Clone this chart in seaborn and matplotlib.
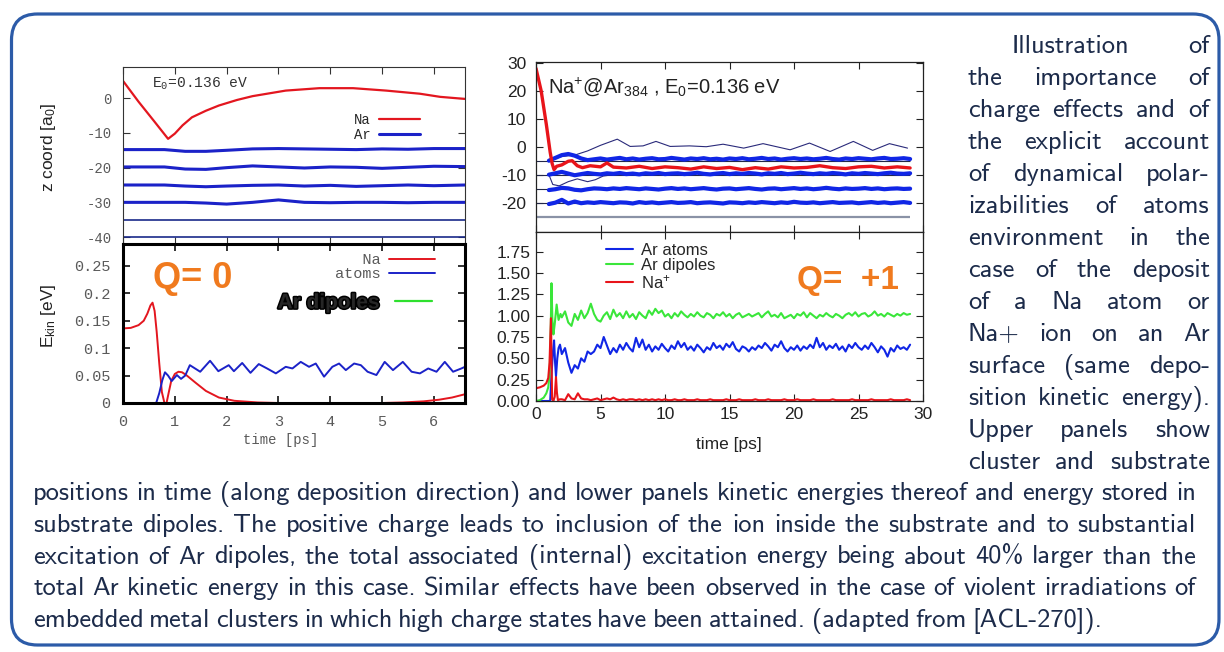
import numpy as np
import matplotlib
matplotlib.use("Agg")
import matplotlib.pyplot as plt
import matplotlib.patheffects as pe
from matplotlib.patches import FancyBboxPatch
from matplotlib.lines import Line2D
from matplotlib.transforms import IdentityTransform
from matplotlib.ticker import FormatStrFormatter
import seaborn as sns

W, H = 1224, 652

# ---------------- Q = 0 : Na on Ar, z coordinate ----------------
t_na_z0 = [0.0, 0.3, 0.6, 0.87, 1.0, 1.15, 1.33, 1.6, 1.85, 2.2, 2.5, 3.14, 3.79, 4.44, 5.08, 5.73, 6.12, 6.6]
z_na_z0 = [5.0, -1.0, -6.6, -11.7, -10.2, -7.8, -5.5, -3.6, -2.1, -0.5, 0.6, 2.2, 2.9, 2.9, 2.2, 1.3, 0.4, -0.2]

t_lay0 = [0, 0.8, 1.2, 1.6, 2.0, 2.5, 3.0, 3.5, 4.0, 4.5, 5.0, 5.5, 6.0, 6.6]
z_lay0_15 = [-14.8, -14.8, -15.3, -15.3, -15.0, -14.6, -14.5, -14.6, -14.7, -14.8, -14.6, -14.7, -14.5, -14.5]
z_lay0_20 = [-19.8, -19.8, -20.4, -20.5, -20.0, -19.5, -19.8, -20.1, -19.8, -19.9, -20.2, -19.9, -19.6, -19.7]
z_lay0_25 = [-25.0, -25.0, -25.3, -25.5, -25.3, -25.1, -25.0, -25.3, -25.1, -25.4, -25.2, -25.0, -25.2, -25.0]
z_lay0_30 = [-30.0, -30.0, -30.0, -30.2, -30.5, -30.0, -29.3, -30.0, -30.1, -30.0, -30.0, -30.1, -30.0, -30.0]
z_lay0_35 = [-35.0] * len(t_lay0)
z_lay0_40 = [-40.0] * len(t_lay0)

# ---------------- Q = 0 : kinetic energies ----------------
t_ek_na0 = [0.0, 0.15, 0.3, 0.4, 0.47, 0.53, 0.57, 0.61, 0.65, 0.7, 0.75, 0.8, 0.84, 0.88, 0.93, 1.0,
            1.07, 1.14, 1.22, 1.4, 1.6, 1.85, 2.15, 2.6, 3.0, 4.0, 5.0, 5.4, 5.8, 6.1, 6.35, 6.6]
ek_na0 = [0.136, 0.137, 0.142, 0.150, 0.163, 0.178, 0.183, 0.168, 0.130, 0.072, 0.020, 0.0, 0.0, 0.018, 0.040, 0.053,
          0.057, 0.056, 0.051, 0.037, 0.022, 0.010, 0.004, 0.001, 0.0, 0.0, 0.0, 0.001, 0.003, 0.006, 0.010, 0.016]

t_ek_ar0 = [0.0, 0.64, 0.70, 0.76, 0.81, 0.87, 0.94, 1.04, 1.12, 1.20, 1.29, 1.49, 1.68, 1.84, 2.04,
            2.14, 2.30, 2.46, 2.62, 2.78, 2.95, 3.14, 3.27, 3.43, 3.59, 3.72, 3.88, 4.04, 4.17, 4.30,
            4.46, 4.59, 4.72, 4.89, 5.05, 5.21, 5.40, 5.57, 5.73, 5.89, 6.05, 6.21, 6.37, 6.53, 6.6]
ek_ar0 = [0.0, 0.0, 0.018, 0.042, 0.056, 0.050, 0.040, 0.051, 0.044, 0.050, 0.069, 0.057, 0.077, 0.058, 0.069,
          0.058, 0.073, 0.055, 0.071, 0.063, 0.054, 0.066, 0.063, 0.075, 0.066, 0.072, 0.048, 0.066, 0.072, 0.060,
          0.072, 0.069, 0.057, 0.051, 0.075, 0.060, 0.075, 0.057, 0.054, 0.063, 0.057, 0.075, 0.057, 0.063, 0.066]

# ---------------- Q = +1 : Na+ on Ar384, z coordinate ----------------
t_na_z1 = [0.0, 0.4, 0.8, 1.1, 1.25, 1.4, 1.6, 2.0, 2.5, 2.8, 3.2, 3.6, 4.2, 5.0, 5.5,
           6.0, 7.0, 8.0, 9.0, 10.0, 11.0, 12.0, 13.0, 14.0, 15.0, 16.0, 17.0, 18.0, 19.0, 20.0,
           21.0, 22.0, 23.0, 24.0, 25.0, 26.0, 27.0, 28.0, 29.0]
z_na_z1 = [28.0, 20.0, 8.0, -2.0, -6.0, -8.2, -7.0, -6.5, -5.2, -5.0, -6.8, -7.5, -6.8, -7.2, -5.8,
           -7.3, -7.6, -7.0, -7.8, -7.2, -7.5, -8.0, -7.2, -7.8, -7.4, -8.2, -7.5, -8.0, -7.2, -7.6,
           -7.4, -6.8, -7.5, -7.8, -7.2, -7.0, -7.6, -7.2, -7.6]

z_init1 = [-5, -10, -15, -20]      # initial layer positions (thin lines)
z_base1 = [-25]                    # fixed bottom layer
t_span1 = [0, 29]

t_lay1 = np.arange(1.0, 29.01, 0.5)
z_lay1_5 = [-5.0, -4.0, -3.0, -2.6, -3.2, -4.2, -4.8, -4.5, -4.2, -4.6,
            -4.3, -4.0, -4.5, -4.2, -4.6, -4.3, -4.1, -4.5, -4.4, -4.0,
            -4.3, -4.6, -4.2, -4.4, -4.1, -4.5, -4.3, -4.6, -4.2, -4.4,
            -4.1, -4.5, -4.3, -4.0, -4.4, -4.2, -4.6, -4.3, -4.1, -4.4,
            -4.2, -4.5, -4.3, -4.0, -4.4, -4.6, -4.2, -4.4, -4.1, -4.3,
            -4.5, -4.2, -4.0, -4.4, -4.3, -4.1, -4.4]
z_lay1_10 = [-10.0, -9.5, -9.0, -9.6, -10.2, -9.8, -9.4, -9.7, -9.9, -9.5,
             -9.7, -9.4, -9.8, -9.6, -9.9, -9.5, -9.7, -9.4, -9.8, -9.6,
             -9.5, -9.8, -9.6, -9.3, -9.7, -9.9, -9.6, -9.4, -9.8, -9.5,
             -9.7, -9.4, -9.6, -9.9, -9.5, -9.7, -9.4, -9.8, -9.6, -9.3,
             -9.6, -9.8, -9.5, -9.7, -9.4, -9.6, -9.9, -9.5, -9.7, -9.4,
             -9.6, -9.8, -9.5, -9.3, -9.6, -9.7, -9.5]
z_lay1_15 = [-15.5, -15.2, -14.7, -14.9, -15.4, -15.6, -15.2, -14.9, -15.0, -15.2,
             -14.9, -15.1, -14.8, -15.0, -15.2, -14.9, -15.1, -15.3, -15.0, -14.8,
             -15.1, -14.9, -15.2, -15.0, -14.8, -15.1, -15.3, -15.0, -14.9, -15.2,
             -15.0, -14.8, -15.1, -15.3, -15.0, -14.9, -15.2, -15.0, -14.8, -15.1,
             -14.9, -15.2, -15.0, -14.7, -15.0, -15.2, -14.9, -15.1, -15.0, -14.8,
             -15.1, -14.9, -15.2, -15.0, -14.9, -15.1, -15.0]
z_lay1_20 = [-20.5, -20.0, -19.0, -20.3, -19.6, -20.2, -19.9, -20.1, -19.8, -20.0,
             -20.2, -19.9, -20.0, -20.3, -19.8, -20.1, -19.9, -20.2, -20.0, -19.8,
             -20.1, -20.0, -19.8, -20.2, -20.0, -19.9, -20.1, -20.3, -19.9, -20.0,
             -20.2, -19.9, -20.1, -19.8, -20.0, -20.2, -19.9, -20.1, -19.7, -20.0,
             -20.1, -19.9, -20.2, -20.0, -19.8, -20.1, -20.0, -19.9, -20.2, -20.0,
             -19.8, -20.1, -19.9, -20.2, -20.0, -19.8, -20.1]

# two single atoms leaving their layer (thin lines)
t_thin_a = [1.0, 2.0, 3.0, 4.0, 5.0, 6.3, 7.3, 8.3, 9.3, 10.4, 11.9, 13.2, 14.5, 16.1, 17.6, 19.7, 21.2, 22.8, 24.6, 26.1, 27.4, 28.8]
z_thin_a = [-5.0, -3.5, -3.0, -1.5, 0.5, 2.7, 0.1, 0.3, 1.9, 0.1, 0.3, 0.0, 0.9, -0.5, 1.1, -1.1, 1.3, -1.7, 1.9, -1.3, 1.1, -0.5]
t_thin_b = [1.0, 1.3, 1.8, 2.5, 3.2, 4.0, 4.6, 5.2, 6.0]
z_thin_b = [-10.0, -13.5, -14.0, -12.5, -11.5, -12.5, -11.8, -10.5, -10.0]

# ---------------- Q = +1 : energies ----------------
t_dip1_early = [0.0, 0.3, 0.6, 0.8, 0.95, 1.05, 1.15, 1.2, 1.27, 1.35, 1.45, 1.6, 1.75, 1.9]
e_dip1_early = [0.0, 0.01, 0.04, 0.09, 0.16, 0.3, 0.9, 1.38, 0.95, 0.78, 0.9, 1.13, 0.95, 1.02]
t_ar1_early = [0.0, 1.1, 1.2, 1.3, 1.4, 1.48, 1.55, 1.65, 1.75, 1.86]
e_ar1_early = [0.0, 0.0, 0.3, 0.55, 0.71, 0.45, 0.29, 0.5, 0.62, 0.66]
t_na1_early = [0.0, 0.3, 0.6, 0.8, 0.95, 1.05, 1.12, 1.16, 1.2, 1.25, 1.35, 1.45, 1.55, 1.62, 1.7, 1.85]
e_na1_early = [0.15, 0.16, 0.18, 0.21, 0.27, 0.45, 0.8, 0.97, 0.5, 0.02, 0.0, 0.05, 0.28, 0.1, 0.01, 0.02]

t_late = np.arange(2.0, 29.01, 0.25)
e_dip1_late = [0.98, 1.05, 0.92, 0.88, 1.02, 0.95, 1.06, 0.97, 1.03, 1.14,
               1.02, 0.95, 0.93, 1.00, 1.04, 0.96, 1.07, 0.99, 1.03, 0.97,
               1.05, 0.98, 1.02, 0.96, 1.04, 1.00, 0.97, 1.06, 1.01, 1.08,
               1.03, 1.06, 0.99, 1.02, 0.97, 1.03, 0.99, 1.05, 1.01, 0.98,
               1.02, 0.99, 1.04, 1.00, 0.98, 1.03, 1.01, 0.97, 1.02, 1.00,
               1.04, 0.99, 1.02, 0.97, 1.01, 1.03, 0.98, 1.00, 1.02, 0.99,
               1.01, 1.03, 0.98, 1.02, 1.05, 0.99, 1.01, 0.98, 1.03, 0.97,
               0.99, 1.01, 0.97, 1.02, 1.00, 1.04, 0.98, 1.03, 1.00, 0.97,
               1.01, 0.99, 1.03, 1.00, 0.98, 1.02, 1.00, 0.97, 1.01, 1.03,
               1.00, 1.04, 0.99, 1.02, 1.03, 0.99, 1.01, 1.05, 1.00, 1.02,
               0.99, 1.03, 1.01, 0.99, 1.02, 1.00, 1.03, 1.01, 1.02]
e_ar1_late = [0.55, 0.62, 0.45, 0.33, 0.42, 0.38, 0.50, 0.46, 0.58, 0.55,
              0.58, 0.66, 0.62, 0.75, 0.65, 0.55, 0.62, 0.57, 0.66, 0.60,
              0.68, 0.62, 0.58, 0.74, 0.63, 0.72, 0.60, 0.66, 0.58, 0.64,
              0.60, 0.67, 0.62, 0.58, 0.65, 0.61, 0.70, 0.63, 0.68, 0.60,
              0.64, 0.59, 0.66, 0.62, 0.57, 0.63, 0.60, 0.68, 0.62, 0.65,
              0.60, 0.67, 0.63, 0.69, 0.61, 0.58, 0.64, 0.62, 0.58, 0.63,
              0.60, 0.65, 0.62, 0.68, 0.64, 0.59, 0.66, 0.63, 0.70, 0.62,
              0.58, 0.63, 0.60, 0.65, 0.59, 0.64, 0.61, 0.66, 0.62, 0.74,
              0.63, 0.68, 0.60, 0.65, 0.62, 0.67, 0.60, 0.64, 0.58, 0.66,
              0.62, 0.68, 0.63, 0.60, 0.65, 0.61, 0.68, 0.63, 0.57, 0.64,
              0.60, 0.52, 0.62, 0.58, 0.65, 0.61, 0.63, 0.60, 0.66]
e_na1_late = [0.02, 0.01, 0.08, 0.03, 0.02, 0.09, 0.03, 0.02, 0.02, 0.01,
              0.02, 0.03, 0.01, 0.02, 0.03, 0.02, 0.04, 0.02, 0.01, 0.02,
              0.01, 0.02, 0.02, 0.01, 0.02, 0.01, 0.02, 0.01, 0.02, 0.01,
              0.02, 0.01, 0.02, 0.01, 0.01, 0.02, 0.01, 0.01, 0.02, 0.01,
              0.01, 0.01, 0.02, 0.01, 0.01, 0.01, 0.02, 0.01, 0.01, 0.01,
              0.01, 0.02, 0.01, 0.01, 0.01, 0.02, 0.01, 0.01, 0.01, 0.01,
              0.02, 0.01, 0.01, 0.01, 0.02, 0.01, 0.01, 0.01, 0.01, 0.02,
              0.01, 0.01, 0.01, 0.02, 0.01, 0.01, 0.01, 0.01, 0.02, 0.01,
              0.01, 0.01, 0.01, 0.01, 0.02, 0.01, 0.01, 0.01, 0.01, 0.01,
              0.02, 0.01, 0.01, 0.01, 0.01, 0.01, 0.02, 0.01, 0.01, 0.01,
              0.01, 0.01, 0.02, 0.01, 0.01, 0.01, 0.01, 0.02, 0.01]

# ---------------- caption ----------------
col_lines = ["Illustration of", "the importance of", "charge effects and of", "the explicit account",
             "of dynamical polar-", "izabilities of atoms", "environment in the", "case of the deposit",
             "of a Na atom or", "Na+ ion on an Ar", "surface (same depo-", "sition kinetic energy).",
             "Upper panels show", "cluster and substrate"]
bottom_lines = [
    "positions in time (along deposition direction) and lower panels kinetic energies thereof and energy stored in",
    "substrate dipoles. The positive charge leads to inclusion of the ion inside the substrate and to substantial",
    "excitation of Ar dipoles, the total associated (internal) excitation energy being about 40% larger than the",
    "total Ar kinetic energy in this case. Similar effects have been observed in the case of violent irradiations of",
    "embedded metal clusters in which high charge states have been attained. (adapted from [ACL-270]).",
]

RED0, BLUE0, GREEN0 = "#e3161f", "#1b22c8", "#2ee02e"
RED1, BLUE1, GREEN1 = "#e8141a", "#1026e6", "#3ae63a"
ORANGE = "#f07a1e"
CAP = "#1c2b4a"
GREY = "#5a5a5a"

sns.set_style("ticks")
plt.rcParams['font.family'] = ['Liberation Sans', 'DejaVu Sans']
plt.rcParams['mathtext.default'] = 'regular'
plt.rcParams['axes.unicode_minus'] = False

fig = plt.figure(figsize=(W / 100, H / 100), dpi=100)


def fx(x):
    return x / W


def fy(y):
    return 1 - y / H


def px_axes(l, t, r, b):
    return fig.add_axes([l / W, 1 - b / H, (r - l) / W, (b - t) / H])


def line(ax, x, y, **kw):
    sns.lineplot(x=x, y=y, ax=ax, estimator=None, sort=False, legend=False, **kw)
    return ax.lines[-1]


ax1 = px_axes(123, 67, 465, 244)
ax2 = px_axes(123, 244, 465, 403)
ax3 = px_axes(536, 62, 923, 232)
ax4 = px_axes(536, 232, 923, 401)

# ---- left top ----
for zz in [z_lay0_15, z_lay0_20, z_lay0_25, z_lay0_30]:
    h_ar0 = line(ax1, t_lay0, zz, color=BLUE0, linewidth=2.2)
for zz in [z_lay0_35, z_lay0_40]:
    line(ax1, t_lay0, zz, color="#1a2a8a", linewidth=1.2)
h_na0 = line(ax1, t_na_z0, z_na_z0, color=RED0, linewidth=1.6)
ax1.set_xlim(0, 6.6)
ax1.set_ylim(-42, 9)
ax1.set_yticks([0, -10, -20, -30, -40])
ax1.set_xticks(range(0, 7))
ax1.tick_params(direction='in', top=True, right=True, length=5, width=0.8, colors="#333",
                labelbottom=False, labelfontfamily='Liberation Mono', labelsize=10, pad=8)
for lab in ax1.get_yticklabels():
    lab.set_color(GREY)
for s in ax1.spines.values():
    s.set_linewidth(0.8)
    s.set_color("#333")
ax1.legend([h_na0, h_ar0], ["Na", "Ar"], loc='upper right', bbox_to_anchor=(0.89, 0.78),
           markerfirst=False, frameon=False, prop={'family': 'Liberation Mono', 'size': 10},
           handlelength=3.0, handletextpad=0.6, labelspacing=0.05, borderpad=0)
fig.text(fx(152), fy(88), "E$_0$=0.136 eV", family='Liberation Mono', fontsize=10.5, color="#333")

# ---- left bottom ----
h_na0b = line(ax2, t_ek_na0, ek_na0, color=RED0, linewidth=1.4)
h_ar0b = line(ax2, t_ek_ar0, ek_ar0, color=BLUE0, linewidth=1.4)
ax2.set_xlim(0, 6.6)
ax2.set_ylim(0, 0.29)
ax2.set_yticks([0, 0.05, 0.1, 0.15, 0.2, 0.25])
ax2.yaxis.set_major_formatter(FormatStrFormatter('%g'))
ax2.set_xticks(range(0, 7))
ax2.tick_params(direction='in', top=True, right=True, length=5, width=1.2, colors="#111",
                labelfontfamily='Liberation Mono', labelsize=11, pad=9)
for lab in ax2.get_yticklabels() + ax2.get_xticklabels():
    lab.set_color(GREY)
for s in ax2.spines.values():
    s.set_linewidth(2.2)
    s.set_color("#000")
leg2 = ax2.legend([h_na0b, h_ar0b], ["   Na", "atoms"], loc='upper right', bbox_to_anchor=(0.94, 1.0),
                  markerfirst=False, frameon=False, prop={'family': 'Liberation Mono', 'size': 11},
                  handlelength=3.0, handletextpad=0.6, labelspacing=0.0, borderpad=0.1)
for txt in leg2.get_texts():
    txt.set_color(GREY)
ax2.add_artist(leg2)
h_dip0 = Line2D([], [], color=GREEN0, linewidth=1.6)
leg2b = ax2.legend([h_dip0], ["Ar dipoles"], loc='center right', bbox_to_anchor=(0.935, 0.63),
                   markerfirst=False, frameon=False, prop={'weight': 'bold', 'size': 15},
                   handlelength=1.8, handletextpad=0.7, borderpad=0)
for txt in leg2b.get_texts():
    txt.set_path_effects([pe.withStroke(linewidth=2.2, foreground='black')])
fig.text(fx(153), fy(278), "Q= 0", fontsize=26, fontweight='bold', color=ORANGE, va='center')

# ---- right top ----
ax3.hlines(z_init1, t_span1[0], t_span1[1], color="#23284a", linewidth=0.8)
ax3.hlines(z_base1, t_span1[0], t_span1[1], color="#8a92a6", linewidth=1.6)
line(ax3, t_thin_a, z_thin_a, color="#2a2a7a", linewidth=0.8)
line(ax3, t_thin_b, z_thin_b, color="#2a2a7a", linewidth=0.8)
for zz in [z_lay1_5, z_lay1_10, z_lay1_15, z_lay1_20]:
    line(ax3, t_lay1, zz, color=BLUE1, linewidth=3.0)
line(ax3, t_na_z1, z_na_z1, color=RED1, linewidth=2.4)
ax3.set_xlim(0, 30)
ax3.set_ylim(-30.5, 30.3)
ax3.set_yticks([-20, -10, 0, 10, 20, 30])
ax3.set_xticks(range(0, 31, 5))
ax3.tick_params(direction='in', top=True, right=True, length=5, width=0.8, colors="#222",
                labelbottom=False, labelsize=12.5, pad=7)
for s in ax3.spines.values():
    s.set_linewidth(0.9)
    s.set_color("#222")
fig.text(fx(548), fy(93), "Na$^{+}$@Ar$_{384}$ , E$_0$=0.136 eV", fontsize=14.5, color="#222", va='baseline')

# ---- right bottom ----
h_ar1 = line(ax4, t_ar1_early + list(t_late), e_ar1_early + e_ar1_late, color=BLUE1, linewidth=1.5)
h_dip1 = line(ax4, t_dip1_early + list(t_late), e_dip1_early + e_dip1_late, color=GREEN1, linewidth=1.5)
h_na1 = line(ax4, t_na1_early + list(t_late), e_na1_early + e_na1_late, color=RED1, linewidth=1.5)
ax4.set_xlim(0, 30)
ax4.set_ylim(0, 1.98)
ax4.set_yticks([0, 0.25, 0.5, 0.75, 1.0, 1.25, 1.5, 1.75])
ax4.yaxis.set_major_formatter(FormatStrFormatter('%.2f'))
ax4.set_xticks(range(0, 31, 5))
ax4.tick_params(direction='in', top=True, right=True, length=5, width=0.8, colors="#222",
                labelsize=12.5, pad=4)
for s in ax4.spines.values():
    s.set_linewidth(0.9)
    s.set_color("#222")
ax4.legend([h_ar1, h_dip1, h_na1], ["Ar atoms", "Ar dipoles", "Na$^{+}$"], loc='upper left',
           bbox_to_anchor=(0.16, 0.985), frameon=False, prop={'size': 12},
           handlelength=1.6, handletextpad=0.5, labelspacing=0.0, borderpad=0)
fig.text(fx(797), fy(280), "Q=  +1", fontsize=24, fontweight='bold', color=ORANGE, va='center')

# ---- axis labels ----
fig.text(fx(48), fy(147), "z coord [a$_0$]", rotation=90, fontsize=12.5, ha='center', va='center', color="#222")
fig.text(fx(48), fy(316), "E$_{kin}$ [eV]", rotation=90, fontsize=12.5, ha='center', va='center', color="#222")
fig.text(fx(281), fy(440), "time [ps]", family='Liberation Mono', fontsize=10, ha='center', va='center', color=GREY)
fig.text(fx(729), fy(445), "time [ps]", fontsize=12.5, ha='center', va='center', color="#222")

# ---- frame ----
frame = FancyBboxPatch((11.5, H - 645), 1207.5, 631, boxstyle="round,pad=0,rounding_size=26",
                       transform=IdentityTransform(), facecolor='none', edgecolor="#2c5ba8", linewidth=2.3)
fig.add_artist(frame)

# ---- justified caption ----
renderer = fig.canvas.get_renderer()
SPACE = 6.5   # natural interword space in pixels


def word_texts(words, y, size):
    ts = [fig.text(0, fy(y), w, family='cmss10', fontsize=size, color=CAP, va='baseline') for w in words]
    return ts, [t.get_window_extent(renderer).width for t in ts]


# font size chosen so that a full justified line has natural spacing
probe, pw = word_texts(bottom_lines[3].split(' '), 0, 10)
for p in probe:
    p.remove()
cap_size = 0.975 * 10 * (1196 - 33 - (len(pw) - 1) * SPACE) / sum(pw)


def place(lines, x0, x1, y0, dy, indent=0, ragged_last=False):
    for i, ln in enumerate(lines):
        words = ln.split(' ')
        ts, ws = word_texts(words, y0 + i * dy, cap_size)
        start = x0 + (indent if i == 0 else 0)
        if ragged_last and i == len(lines) - 1:
            gap = SPACE - 1
        else:
            gap = (x1 - start - sum(ws)) / max(len(ws) - 1, 1)
        x = start
        for t, w in zip(ts, ws):
            t.set_x(fx(x))
            x += w + gap


place(col_lines, 968, 1210, 53, 32.0, indent=44)
place(bottom_lines, 33, 1196, 500, 31.75, ragged_last=True)

fig.savefig("out.png", dpi=100)
